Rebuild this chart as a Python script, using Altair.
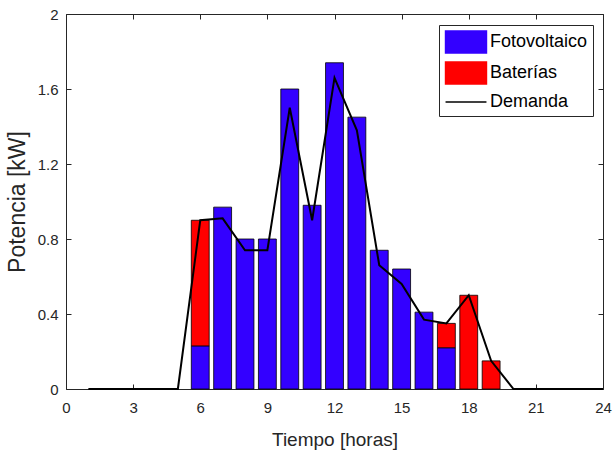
import altair as alt
import pandas as pd

# ---- data ----
hours = list(range(1, 25))
fotovoltaico = [0, 0, 0, 0, 0, 0.23, 0.97, 0.80, 0.80, 1.60, 0.98, 1.74, 1.45, 0.74, 0.64, 0.41, 0.22, 0, 0, 0, 0, 0, 0, 0]
baterias = [0, 0, 0, 0, 0, 0.67, 0, 0, 0, 0, 0, 0, 0, 0, 0, 0, 0.13, 0.50, 0.15, 0, 0, 0, 0, 0]
demanda = [0, 0, 0, 0, 0, 0.90, 0.91, 0.74, 0.74, 1.50, 0.90, 1.66, 1.38, 0.66, 0.56, 0.37, 0.35, 0.50, 0.15, 0, 0, 0, 0, 0]

series = ["Fotovoltaico", "Baterías", "Demanda"]
series_colors = ["#3300ff", "#ff0000", "#000000"]
x_ticks = [0, 3, 6, 9, 12, 15, 18, 21, 24]
y_ticks = [0, 0.4, 0.8, 1.2, 1.6, 2]

# ---- tables built from the arrays ----
bar_rows = []
for h, p, b in zip(hours, fotovoltaico, baterias):
    if p > 0:
        bar_rows.append({"hour": h, "serie": series[0], "lo": 0.0, "hi": p})
    if b > 0:
        bar_rows.append({"hour": h, "serie": series[1], "lo": p, "hi": p + b})
bar_df = pd.DataFrame(bar_rows)
line_df = pd.DataFrame({"hour": hours, "demanda": demanda, "serie": series[2]})

FONT = "Liberation Sans"
GRAY = "#262626"

xscale = alt.Scale(domain=[0, 24], nice=False, zero=False)
yscale = alt.Scale(domain=[0, 2], nice=False)

axis_common = dict(domain=False, grid=False, tickSize=5, offset=-5, tickColor=GRAY,
                   tickWidth=1, labelFont=FONT, labelColor=GRAY, labelFontSize=15,
                   titleFont=FONT, titleColor=GRAY, titleFontWeight="normal")

x_bottom = alt.Axis(values=x_ticks, labelPadding=11, titleFontSize=19, titlePadding=15,
                    labelFlush=False, **axis_common)
y_left = alt.Axis(values=y_ticks, format="~g", labelPadding=8, titleFontSize=23,
                  titlePadding=8, **axis_common)
x_top = alt.Axis(values=x_ticks, orient="top", labels=False, title=None, **axis_common)
y_right = alt.Axis(values=y_ticks, orient="right", labels=False, title=None, **axis_common)

color_scale = alt.Scale(domain=series, range=series_colors)

rect_path = "M-1.86,-1H1.86V1H-1.86Z"
line_path = "M-1.86,0H1.86"
legend = alt.Legend(
    title=None, orient="none", legendX=373, legendY=11,
    symbolType=alt.ExprRef(expr=f"datum.value === 'Demanda' ? '{line_path}' : '{rect_path}'"),
    symbolSize=484,
    symbolStrokeWidth=1.5,
    symbolOffset=10,
    symbolFillColor=alt.ExprRef(expr="datum.value === 'Demanda' ? 'transparent' : (datum.value === 'Fotovoltaico' ? '#3300ff' : '#ff0000')"),
    symbolStrokeColor="black", symbolOpacity=1,
    labelFont=FONT, labelFontSize=18, labelColor="black", labelOffset=12,
    padding=5, rowPadding=3, strokeColor=GRAY, fillColor="white",
)

bars = (
    alt.Chart(bar_df)
    .transform_calculate(x0="datum.hour - 0.4", x1="datum.hour + 0.4")
    .mark_bar(stroke="black", strokeWidth=0.8, opacity=1)
    .encode(
        x=alt.X("x0:Q", scale=xscale, axis=x_bottom, title="Tiempo [horas]"),
        x2="x1:Q",
        y=alt.Y("lo:Q", scale=yscale, axis=y_left, title="Potencia [kW]"),
        y2="hi:Q",
        color=alt.Color("serie:N", scale=color_scale, legend=legend),
    )
)

line = (
    alt.Chart(line_df)
    .mark_line(strokeWidth=2)
    .encode(
        x=alt.X("hour:Q", scale=xscale, axis=x_top),
        y=alt.Y("demanda:Q", scale=yscale, axis=y_right),
        color=alt.Color("serie:N", scale=color_scale, legend=legend),
    )
)

chart = (
    alt.layer(bars, line)
    .resolve_axis(x="independent", y="independent")
    .properties(
        width=537, height=375,
        autosize=alt.AutoSizeParams(type="none"),
        padding={"left": 66, "top": 14, "right": 12, "bottom": 67},
        background="white",
    )
    .configure_view(stroke=GRAY, strokeWidth=1)
)

chart.save("out.html", embed_options={"renderer": "svg", "actions": False})
